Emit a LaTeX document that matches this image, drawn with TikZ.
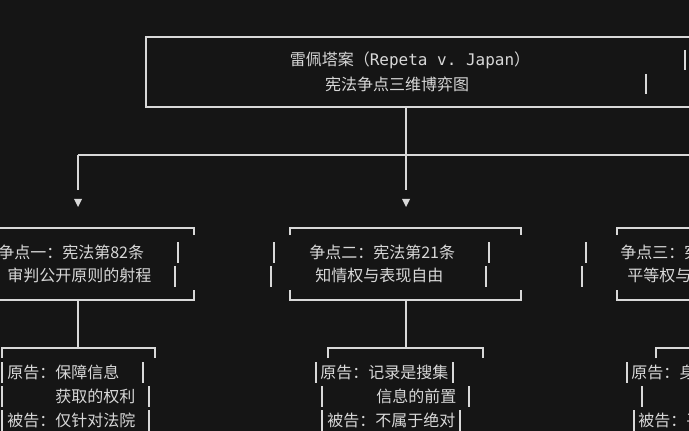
\documentclass[tikz,border=0pt]{standalone}
\usepackage{fontspec}
\setmainfont{Noto Sans CJK SC}
\setmonofont{DejaVu Sans Mono}
\definecolor{bgdark}{HTML}{151515}
\definecolor{ink}{HTML}{D8D8D8}
\tikzset{
  box/.style={draw=ink, line width=0.9pt},
  txt/.style={text=ink, anchor=west, inner sep=0pt, font=\fontsize{12pt}{14pt}\selectfont},
  tip/.style={fill=ink, draw=none}
}
\begin{document}
\begin{tikzpicture}[x=0.75pt, y=-0.75pt]
  \useasboundingbox[fill=bgdark] (0,0) rectangle (689,431);
  \clip (0,0) rectangle (689,431);

  % title box
  \draw[box] (689,37) -- (146,37) -- (146,107) -- (689,107);
  \draw[box] (685,50) -- (685,70) (646,74) -- (646,94);
  \node[txt, anchor=center] (title) at (410,60) {雷佩塔案（\texttt{Repeta v. Japan}）};
  \node[txt, anchor=center] (subtitle) at (397,84) {宪法争点三维博弈图};

  % branches to the three issues
  \draw[box] (406,107) -- (406,190);
  \draw[box] (78,155) -- (689,155) (78,155) -- (78,190);
  \foreach \x in {78,406}
    \fill[tip] (\x-4,199) -- (\x+4,199) -- (\x,207) -- cycle;

  % issue boxes
  \draw[box] (0,228) -- (194,228) -- (194,235) (194,290) -- (194,300) -- (0,300);
  \draw[box] (178,242) -- (178,263) (175,266) -- (175,287);
  \node[txt] (a1) at (-2,252) {争点一：宪法第82条};
  \node[txt] (a2) at (7,275) {审判公开原则的射程};

  \draw[box] (290,235) -- (290,228) -- (521,228) -- (521,235)
             (290,290) -- (290,300) -- (521,300) -- (521,290);
  \draw[box] (274,242) -- (274,263) (271,266) -- (271,287)
             (489,242) -- (489,263) (486,266) -- (486,287);
  \node[txt] (b1) at (309,252) {争点二：宪法第21条};
  \node[txt] (b2) at (315,275) {知情权与表现自由};

  \draw[box] (617,235) -- (617,228) -- (689,228) (617,290) -- (617,300) -- (689,300);
  \draw[box] (586,242) -- (586,263) (582,266) -- (582,287);
  \node[txt] (c1) at (620,252) {争点三：宪法第14条};
  \node[txt] (c2) at (627,275) {平等权与};

  % down to the positions
  \foreach \x in {78,406}
    \draw[box] (\x,300) -- (\x,348);
  \draw[box] (2,358) -- (2,348) -- (155,348) -- (155,358);
  \draw[box] (328,358) -- (328,348) -- (483,348) -- (483,358);
  \draw[box] (656,358) -- (656,348) -- (689,348);

  % positions, issue one
  \draw[box] (2,362) -- (2,383) (143,362) -- (143,383)
             (2,386) -- (2,407) (149,386) -- (149,407)
             (2,410) -- (2,431) (149,410) -- (149,431);
  \node[txt] (p1) at (7,372) {原告：保障信息};
  \node[txt] (p2) at (55,396) {获取的权利};
  \node[txt] (p3) at (7,420) {被告：仅针对法院};

  % positions, issue two
  \draw[box] (316,362) -- (316,383) (453,362) -- (453,383)
             (322,386) -- (322,407) (469,386) -- (469,407)
             (322,410) -- (322,431) (460,410) -- (460,431);
  \node[txt] (q1) at (320,372) {原告：记录是搜集};
  \node[txt] (q2) at (376,396) {信息的前置};
  \node[txt] (q3) at (327,420) {被告：不属于绝对};

  % positions, issue three
  \draw[box] (627,362) -- (627,383) (642,386) -- (642,407) (634,410) -- (634,431);
  \node[txt] (r1) at (631,372) {原告：身份};
  \node[txt] (r3) at (638,420) {被告：平等};
\end{tikzpicture}
\end{document}
